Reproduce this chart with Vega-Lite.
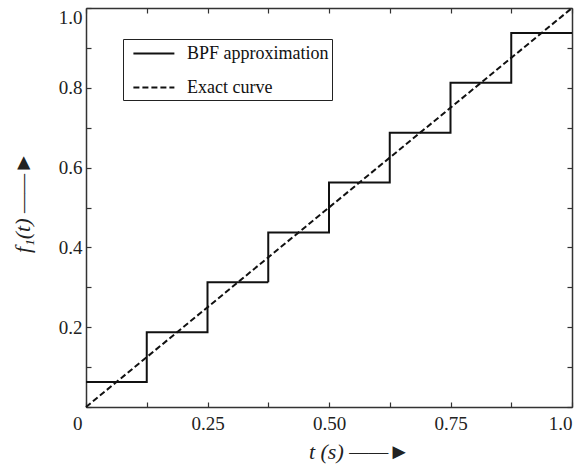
{
  "$schema": "https://vega.github.io/schema/vega-lite/v6.json",
  "width": 486,
  "height": 399,
  "autosize": "none",
  "padding": {"left": 86, "top": 8, "right": 10, "bottom": 61},
  "background": "white",
  "config": {
    "view": {"stroke": null},
    "font": "Liberation Serif, Times New Roman, serif",
    "axis": {
      "labelFont": "Liberation Serif, Times New Roman, serif",
      "labelFontSize": 19,
      "labelColor": "#222",
      "titleFont": "Liberation Serif, Times New Roman, serif",
      "titleFontSize": 22,
      "titleFontWeight": "normal",
      "titleColor": "#222",
      "domainColor": "#333",
      "domainWidth": 1.5,
      "tickColor": "#333",
      "tickWidth": 1.2,
      "tickSize": -5,
      "grid": false
    }
  },
  "data": {
    "values": [
      {"t": 0, "f": 0.0625, "series": "BPF approximation"},
      {"t": 0.125, "f": 0.1875, "series": "BPF approximation"},
      {"t": 0.25, "f": 0.3125, "series": "BPF approximation"},
      {"t": 0.375, "f": 0.4375, "series": "BPF approximation"},
      {"t": 0.5, "f": 0.5625, "series": "BPF approximation"},
      {"t": 0.625, "f": 0.6875, "series": "BPF approximation"},
      {"t": 0.75, "f": 0.8125, "series": "BPF approximation"},
      {"t": 0.875, "f": 0.9375, "series": "BPF approximation"},
      {"t": 1.0, "f": 0.9375, "series": "BPF approximation"},
      {"t": 0, "f": 0, "series": "Exact curve"},
      {"t": 1, "f": 1, "series": "Exact curve"}
    ]
  },
  "layer": [
    {
      "transform": [{"filter": "datum.series == 'BPF approximation'"}],
      "mark": {"type": "line", "interpolate": "step-after", "color": "#111", "strokeWidth": 2},
      "encoding": {
        "x": {
          "field": "t", "type": "quantitative",
          "scale": {"domain": [0, 1], "nice": false, "zero": false},
          "axis": {
            "orient": "bottom",
            "values": [0, 0.125, 0.25, 0.375, 0.5, 0.625, 0.75, 0.875, 1],
            "labelExpr": "datum.value == 0 ? '0' : datum.value == 1 ? '1.0' : ((datum.value * 4) % 1 == 0 ? format(datum.value, '.2f') : '')",
            "labelAlign": {"condition": {"test": "datum.value == 0 || datum.value == 1", "value": "right"}, "value": "center"},
            "labelOffset": {"condition": {"test": "datum.value == 0", "value": -4}, "value": 0},
            "labelPadding": 12,
            "labelFlush": false,
            "labelOverlap": false,
            "title": "t (s)  ——►",
            "titleFontStyle": "italic",
            "titleX": 273,
            "titlePadding": 8
          }
        },
        "y": {
          "field": "f", "type": "quantitative",
          "scale": {"domain": [0, 1], "nice": false, "zero": false},
          "axis": {
            "orient": "left",
            "values": [0, 0.1, 0.2, 0.3, 0.4, 0.5, 0.6, 0.7, 0.8, 0.9, 1],
            "labelExpr": "datum.value == 0 ? '' : (round(datum.value * 10) % 2 == 0 ? format(datum.value, '.1f') : '')",
            "labelPadding": 9,
            "labelFlush": true,
            "labelOverlap": false,
            "title": "f₁(t)  ——►",
            "titleFontStyle": "italic",
            "titleY": 194,
            "titlePadding": 24
          }
        },
        "strokeDash": {
          "field": "series", "type": "nominal",
          "scale": {"domain": ["BPF approximation", "Exact curve"], "range": [[1, 0], [6, 3]]},
          "legend": {
            "title": null,
            "orient": "none",
            "legendX": 37,
            "legendY": 31,
            "strokeColor": "#222",
            "fillColor": "white",
            "padding": 3,
            "symbolType": "M-0.4,0H3.6",
            "symbolSize": 420,
            "symbolStrokeWidth": 2,
            "symbolStrokeColor": "#111",
            "symbolFillColor": "transparent",
            "labelFont": "Liberation Serif, Times New Roman, serif",
            "labelFontSize": 18,
            "labelColor": "#111",
            "labelOffset": 38,
            "rowPadding": 13,
            "labelLimit": 300
          }
        }
      }
    },
    {
      "transform": [{"filter": "datum.series == 'Exact curve'"}],
      "mark": {"type": "line", "color": "#111", "strokeWidth": 2},
      "encoding": {
        "x": {
          "field": "t", "type": "quantitative",
          "axis": {
            "orient": "top",
            "values": [0, 0.125, 0.25, 0.375, 0.5, 0.625, 0.75, 0.875, 1],
            "labels": false,
            "title": null
          }
        },
        "y": {
          "field": "f", "type": "quantitative",
          "axis": {
            "orient": "right",
            "values": [0, 0.1, 0.2, 0.3, 0.4, 0.5, 0.6, 0.7, 0.8, 0.9, 1],
            "labels": false,
            "title": null
          }
        },
        "strokeDash": {"field": "series", "type": "nominal"}
      }
    }
  ],
  "resolve": {"axis": {"x": "independent", "y": "independent"}}
}
